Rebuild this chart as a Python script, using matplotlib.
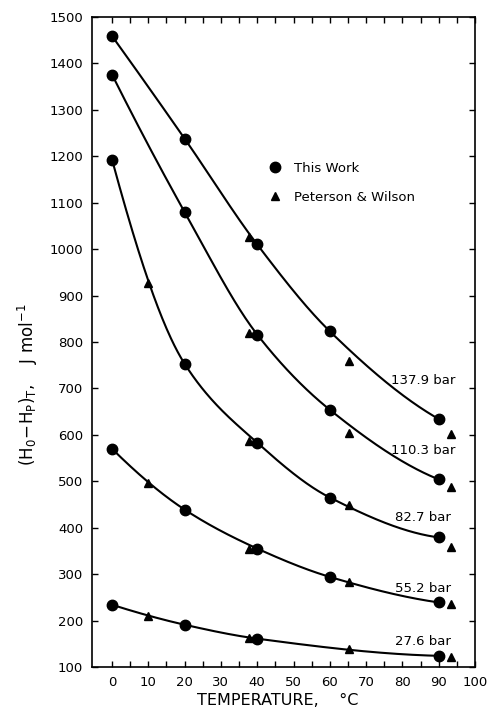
import numpy as np
import matplotlib
matplotlib.use("Agg")
import matplotlib.pyplot as plt
from matplotlib.lines import Line2D

# This Work (circles)
pressures = ["137.9 bar", "110.3 bar", "82.7 bar", "55.2 bar", "27.6 bar"]
work_t = [
    [0, 20, 40, 60, 90],
    [0, 20, 40, 60, 90],
    [0, 20, 40, 60, 90],
    [0, 20, 40, 60, 90],
    [0, 20, 40, 90],
]
work_h = [
    [1459, 1238, 1010, 823, 634],
    [1376, 1080, 816, 654, 504],
    [1193, 753, 583, 465, 379],
    [570, 439, 355, 294, 239],
    [234, 191, 161, 124],
]

# Peterson & Wilson (triangles)
pw_t = [
    [37.6, 65.4, 93.4],
    [37.6, 65.4, 93.4],
    [9.8, 37.6, 65.4, 93.4],
    [9.8, 37.6, 65.4, 93.4],
    [9.8, 37.6, 65.4, 93.4],
]
pw_h = [
    [1027, 759, 601],
    [820, 605, 487],
    [927, 587, 448, 359],
    [496, 355, 284, 236],
    [209, 163, 139, 121],
]

label_x = 85.7
label_y = [718, 567, 421, 270, 154]


def pchip(x, y, xs):
    # monotone cubic through the measured points, just for drawing the smooth curve
    x = np.asarray(x, float)
    y = np.asarray(y, float)
    h = np.diff(x)
    d = np.diff(y) / h
    n = len(x)
    m = np.zeros(n)
    for k in range(1, n - 1):
        if d[k - 1] * d[k] > 0:
            w1 = 2 * h[k] + h[k - 1]
            w2 = h[k] + 2 * h[k - 1]
            m[k] = (w1 + w2) / (w1 / d[k - 1] + w2 / d[k])
    m[0] = ((2 * h[0] + h[1]) * d[0] - h[0] * d[1]) / (h[0] + h[1])
    if np.sign(m[0]) != np.sign(d[0]):
        m[0] = 0
    m[-1] = ((2 * h[-1] + h[-2]) * d[-1] - h[-1] * d[-2]) / (h[-1] + h[-2])
    if np.sign(m[-1]) != np.sign(d[-1]):
        m[-1] = 0
    idx = np.clip(np.searchsorted(x, xs) - 1, 0, n - 2)
    t = (xs - x[idx]) / h[idx]
    h00 = 2 * t**3 - 3 * t**2 + 1
    h10 = t**3 - 2 * t**2 + t
    h01 = -2 * t**3 + 3 * t**2
    h11 = t**3 - t**2
    return h00 * y[idx] + h10 * h[idx] * m[idx] + h01 * y[idx + 1] + h11 * h[idx] * m[idx + 1]


fig = plt.figure(figsize=(4.87, 7.10), dpi=100)
ax = fig.add_axes([0.189, 0.0606, 0.7864, 0.9155])

for i in range(len(pressures)):
    xs = np.linspace(work_t[i][0], work_t[i][-1], 300)
    ax.plot(xs, pchip(work_t[i], work_h[i], xs), color="black", lw=1.5)
    ax.plot(work_t[i], work_h[i], "o", color="black", ms=7.5)
    ax.plot(pw_t[i], pw_h[i], "^", color="black", ms=6)
    ax.text(label_x, label_y[i], pressures[i], fontsize=9.5, ha="center", va="center")

ax.set_xlim(-5.5, 100)
ax.set_ylim(100, 1500)
ax.set_xticks(np.arange(0, 101, 10))
ax.set_xticks(np.arange(5, 100, 10), minor=True)
ax.set_yticks(np.arange(100, 1501, 100))
ax.tick_params(which="both", direction="in", top=True, right=True, length=4.5, width=1,
               labelsize=9.5, pad=6.5)
for s in ax.spines.values():
    s.set_linewidth(1.2)

ax.set_xlabel("TEMPERATURE,    °C", fontsize=11.5)
ax.xaxis.set_label_coords(0.485, -0.04)
ax.set_ylabel(r"$(\mathrm{H_0\!-\!H_P})_\mathrm{T}$,    J mol$^{-1}$", fontsize=12)
ax.yaxis.set_label_coords(-0.135, 0.434)

handles = [
    Line2D([], [], marker="o", color="black", ls="none", ms=7.5),
    Line2D([], [], marker="^", color="black", ls="none", ms=6),
]
ax.legend(handles, ["This Work", "Peterson & Wilson"], loc="upper left",
          bbox_to_anchor=(0.427, 0.795), frameon=False, fontsize=9.5,
          handletextpad=0.8, labelspacing=1.2, handlelength=1.2)

fig.savefig("out.png", dpi=100)
